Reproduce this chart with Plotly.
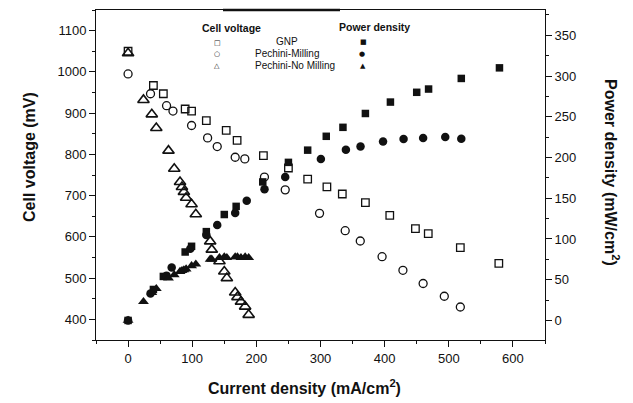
import plotly.graph_objects as go

# ---------------- data ----------------
gnp_v_x = [0, 39.5, 55, 89, 99, 122, 153, 170, 211, 250, 280, 310, 334, 370, 408, 448, 468, 518, 578]
gnp_v_y = [1050, 967, 947, 910, 905, 882, 858, 834, 797, 767, 740, 721, 704, 683, 652, 620, 608, 574, 536]

pm_v_x = [0, 35, 60, 70, 99, 124, 139, 167, 182, 212.6, 245, 298.5, 338.5, 362, 396, 428.5, 460, 493, 518]
pm_v_y = [995, 947, 918, 905, 870, 840, 819, 793, 789, 745, 714, 657, 615, 590, 552, 519, 487, 456, 430]

pnm_v_x = [0, 24, 37, 44, 63, 72, 81, 84, 87, 90.5, 99, 105.6, 128, 130.5, 142.5, 150, 154, 167, 170.5, 176, 182.5, 188]
pnm_v_y = [1045, 932, 897, 864, 809, 765, 733, 721, 709, 695, 679, 655, 589, 569, 541, 516, 500, 465, 454, 443, 431, 411]

gnp_p_x = [0, 39.5, 55, 89, 99, 122, 150, 168.5, 210, 250, 280, 309, 335, 370, 409, 450, 468.5, 519.5, 579]
gnp_p_y = [0, 38, 54, 84, 91, 109, 130, 140, 170, 194, 209, 226, 237, 254, 268, 280, 284, 297, 310]

pm_p_x = [0, 35, 60, 68, 97, 122, 139, 167, 185, 212.7, 245, 300.6, 339.6, 362.4, 397.5, 429.5, 460, 494.5, 519.5]
pm_p_y = [0, 33, 55, 65, 88, 105, 117, 132, 147, 161, 176, 198, 209.5, 213.5, 219.7, 222.6, 224, 225, 223]

pnm_p_x = [0, 24, 37, 44, 63, 72, 81, 84, 87, 90.5, 99, 105.6, 128, 130.5, 142.5, 150, 154, 167, 170.5, 176, 182.5, 188]
pnm_p_y = [0, 23, 34, 39, 52, 56, 60, 61, 62, 63, 67, 69, 75, 75, 77, 78, 77, 78, 78, 77, 78, 77]

x_title = "Current density (mA/cm<sup>2</sup>)"
y_title = "Cell voltage (mV)"
y2_title = "Power density (mW/cm<sup>2</sup>)"

FONT = "Liberation Sans, Arial, sans-serif"
INK = "#111111"

fig = go.Figure()

def add(x, y, symbol, size, axis="y", lw=1.3):
    fig.add_trace(go.Scatter(
        x=x, y=y, mode="markers", yaxis=axis, showlegend=False,
        marker=dict(symbol=symbol, size=size, color=INK,
                    line=dict(color=INK, width=lw)),
    ))

add(gnp_v_x, gnp_v_y, "square-open", 7.5)
add(pm_v_x, pm_v_y, "circle-open", 8)
add(pnm_v_x, pnm_v_y, "triangle-up-open", 10, lw=1.6)
add(gnp_p_x, gnp_p_y, "square", 7.5, axis="y2", lw=0)
add(pm_p_x, pm_p_y, "circle", 8.5, axis="y2", lw=0)
add(pnm_p_x, pnm_p_y, "triangle-up", 9.5, axis="y2", lw=0)

# page is offset by the default 8px body margin
OFF = 8
W, H = 633 - OFF, 403 - OFF
PL, PR, PT, PB = 96, 545, 10, 340          # plot box in page pixels
L, T = PL - OFF, PT - OFF
R = W - (PR - OFF)
B = H - (PB - OFF)
pw, ph = PR - PL, PB - PT

def px(xp):
    return (xp - PL) / pw

def py(yp):
    return (PB - yp) / ph

tickfont = dict(family=FONT, size=13, color=INK)
common = dict(showgrid=False, zeroline=False, showline=True, linecolor=INK,
              linewidth=1, ticks="outside", ticklen=6, tickwidth=1,
              tickcolor=INK, tickfont=tickfont)

fig.update_layout(
    width=W, height=H,
    margin=dict(l=L, r=R, t=T, b=B, pad=0),
    paper_bgcolor="white", plot_bgcolor="white",
    xaxis=dict(range=[-50, 650], dtick=100, tick0=0, mirror=True,
               minor=dict(dtick=50, ticklen=3, ticks="outside", tickcolor=INK),
               **common),
    yaxis=dict(range=[350, 1150], dtick=100, tick0=0,
               minor=dict(dtick=50, ticklen=3, ticks="outside", tickcolor=INK),
               **common),
    yaxis2=dict(range=[-24, 381], dtick=50, tick0=0, overlaying="y", side="right",
                minor=dict(dtick=25, ticklen=3, ticks="outside", tickcolor=INK),
                **common),
)

ann = []
def txt(t, x, y, anchor="center", size=10, bold=False, angle=0, family=FONT):
    ann.append(dict(text=("<b>%s</b>" % t) if bold else t, x=px(x), y=py(y),
                    xref="paper", yref="paper", showarrow=False, textangle=angle,
                    font=dict(family=family, size=size, color=INK),
                    xanchor=anchor, yanchor="middle"))

# axis titles
txt(x_title, 304, 387, size=16, bold=True)
txt(y_title, 29, 157, size=16, bold=True, angle=-90)
txt(y2_title, 612, 172, size=16, bold=True, angle=90)

# legend block
txt("Cell voltage", 231, 28, bold=True, size=10.5)
txt("Power density", 374, 27, bold=True, size=10.5)
txt("GNP", 287, 42, size=10)
txt("Pechini-Milling", 253, 54, anchor="left", size=10)
txt("Pechini-No Milling", 253, 66, anchor="left", size=10)
for s, x, y in [("□", 217, 43), ("○", 217, 54), ("△", 217, 66),
                ("■", 363, 42), ("●", 362, 54), ("▲", 363, 66)]:
    txt(s, x, y, size=7, family="DejaVu Sans")

fig.update_layout(annotations=ann)

# thicker scan segment on top frame
fig.add_shape(type="line", xref="paper", yref="paper", x0=px(223), x1=px(340),
              y0=1, y1=1, line=dict(color=INK, width=2.5))

fig.write_html("out.html")
